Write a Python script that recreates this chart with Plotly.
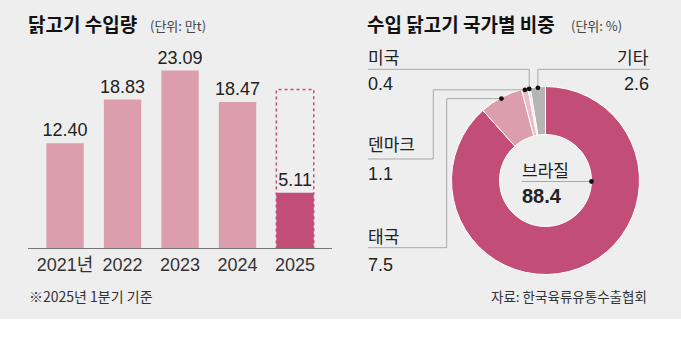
import math
import plotly.graph_objects as go

# ---------------- data ----------------
YEARS = ["2021", "2022", "2023", "2024", "2025"]
TICK_LABELS = ["2021년", "2022", "2023", "2024", "2025"]
IMPORTS = [12.40, 18.83, 23.09, 18.47, 5.11]   # 만t
OUTLINE_2025 = 20.3                             # dotted outline height for 2025

COUNTRIES = ["브라질", "태국", "덴마크", "미국", "기타"]
SHARES = [88.4, 7.5, 1.1, 0.4, 2.6]             # %

# ---------------- style ----------------
W, H = 681, 351
BG = "#eeeeee"
PINK_LIGHT = "#dc9dad"
PINK_DARK = "#c24e77"
SLICE_COLORS = [PINK_DARK, PINK_LIGHT, "#e9bcc7", "#f3dbe1", "#b5b5b5"]
NUM_FONT = "Liberation Sans Narrow, Arial Narrow, Liberation Sans, Noto Sans CJK KR, sans-serif"
KR_FONT = "Noto Sans CJK KR, sans-serif"
TXT = "#222222"
LINE_C = "#a9a9a9"
AXIS_FLOOR = -3.0


def px(x):
    return x / W


def py(y):
    return 1 - y / H


fig = go.Figure()

# ---------------- bar chart ----------------
bar_colors = [PINK_LIGHT] * (len(YEARS) - 1) + [PINK_DARK]
fig.add_trace(go.Bar(
    x=YEARS,
    y=[v - AXIS_FLOOR for v in IMPORTS],
    base=AXIS_FLOOR,
    text=[f"{v:.2f}" for v in IMPORTS],
    textposition="outside",
    constraintext="none",
    cliponaxis=False,
    textfont=dict(family=NUM_FONT, size=18, color=TXT),
    marker=dict(color=bar_colors, line=dict(width=0)),
    hoverinfo="skip",
    showlegend=False,
))

BARGAP = 0.35
idx25 = YEARS.index("2025")
half = (1 - BARGAP) / 2
shapes = [
    dict(type="rect", xref="paper", yref="paper", x0=0, x1=1, y0=py(319), y1=1,
         fillcolor=BG, line=dict(width=0), layer="below"),
    dict(type="rect", xref="x", yref="y", x0=idx25 - half, x1=idx25 + half,
         y0=AXIS_FLOOR, y1=OUTLINE_2025, fillcolor="rgba(0,0,0,0)",
         line=dict(color=PINK_DARK, width=1.5, dash="dot"), layer="below"),
]

# ---------------- donut ----------------
CX, CY, R, R_IN = 545.5, 180.5, 94, 46
fig.add_trace(go.Pie(
    labels=COUNTRIES, values=SHARES, hole=R_IN / R, sort=False,
    direction="clockwise", rotation=0, textinfo="none",
    marker=dict(colors=SLICE_COLORS, line=dict(color="white", width=1)),
    domain=dict(x=[px(CX - R), px(CX + R)], y=[py(CY + R), py(CY - R)]),
    hoverinfo="skip", showlegend=False,
))

total = sum(SHARES)
dots = {}
cum = 0.0
for name, v in zip(COUNTRIES, SHARES):
    th = 2 * math.pi * (cum + v / 2) / total
    dots[name] = (CX + (R - 1) * math.sin(th), CY - (R - 1) * math.cos(th))
    cum += v
dots["브라질"] = (CX + R_IN, CY + 1)


def path(points):
    d = "M " + " L ".join(f"{px(x)},{py(y)}" for x, y in points)
    return dict(type="path", xref="paper", yref="paper", path=d,
                line=dict(color=LINE_C, width=1), layer="above")


LX = 368
lead = {
    "미국": [(LX, 69.3), (dots["미국"][0], 69.3), dots["미국"]],
    "기타": [(650, 69.3), (dots["기타"][0], 69.3), dots["기타"]],
    "덴마크": [(LX, 159), (433.3, 159), (433.3, dots["덴마크"][1]), dots["덴마크"]],
    "태국": [(LX, 247.7), (446.7, 247.7), (446.7, dots["태국"][1]), dots["태국"]],
    "브라질": [(521.7, dots["브라질"][1]), dots["브라질"]],
}
for pts in lead.values():
    shapes.append(path(pts))

DOT_R = 2.4
for c in COUNTRIES:
    x, y = dots[c]
    shapes.append(dict(type="circle", xref="paper", yref="paper",
                       x0=px(x - DOT_R), x1=px(x + DOT_R), y0=py(y + DOT_R), y1=py(y - DOT_R),
                       fillcolor="#111111", line=dict(width=0), layer="above"))

# ---------------- annotations ----------------
ann = []


def text(x, y, s, size, family=KR_FONT, color=TXT, anchor="left"):
    ann.append(dict(x=px(x), y=py(y), xref="paper", yref="paper", text=s, showarrow=False,
                    xanchor=anchor, yanchor="middle",
                    font=dict(family=family, size=size, color=color)))


text(26, 23, "<b>닭고기 수입량</b>", 19, color="#111111")
text(148, 25, "(단위: 만t)", 13, color="#444444")
text(365, 23, "<b>수입 닭고기 국가별 비중</b>", 19, color="#111111")
text(569, 25, "(단위: %)", 13, color="#444444")

label_pos = {"미국": (56, 84), "덴마크": (143.5, 174), "태국": (235.8, 265)}
for c, (ly, vy) in label_pos.items():
    v = SHARES[COUNTRIES.index(c)]
    text(366, ly, c, 17)
    text(366, vy, f"{v}", 18, family=NUM_FONT)
v_other = SHARES[COUNTRIES.index("기타")]
text(651, 56, "기타", 17, anchor="right")
text(651, 84, f"{v_other}", 18, family=NUM_FONT, anchor="right")

v_br = SHARES[COUNTRIES.index("브라질")]
text(520, 169.5, "브라질", 17)
text(520, 196, f"<b>{v_br}</b>", 20, family=NUM_FONT)

text(27, 296, "※2025년 1분기 기준", 14, color="#333333")
text(649, 296, "자료: 한국육류유통수출협회", 13.5, color="#333333", anchor="right")

# ---------------- layout ----------------
fig.update_layout(
    width=W, height=H, margin=dict(l=0, r=0, t=0, b=0),
    paper_bgcolor="white", plot_bgcolor="rgba(0,0,0,0)",
    bargap=BARGAP,
    xaxis=dict(domain=[px(27.7), px(332.4)], range=[-0.65, len(YEARS) - 0.35],
               tickmode="array", tickvals=YEARS, ticktext=TICK_LABELS,
               showline=True, linecolor="#777777", linewidth=1,
               ticks="", showgrid=False, zeroline=False, fixedrange=True,
               tickfont=dict(family=NUM_FONT, size=18, color="#333333")),
    yaxis=dict(domain=[py(248), py(48)], range=[AXIS_FLOOR, AXIS_FLOOR + 200 / 6.8],
               visible=False, fixedrange=True),
    shapes=shapes, annotations=ann,
    font=dict(family=KR_FONT),
)

fig.write_html("out.html")
